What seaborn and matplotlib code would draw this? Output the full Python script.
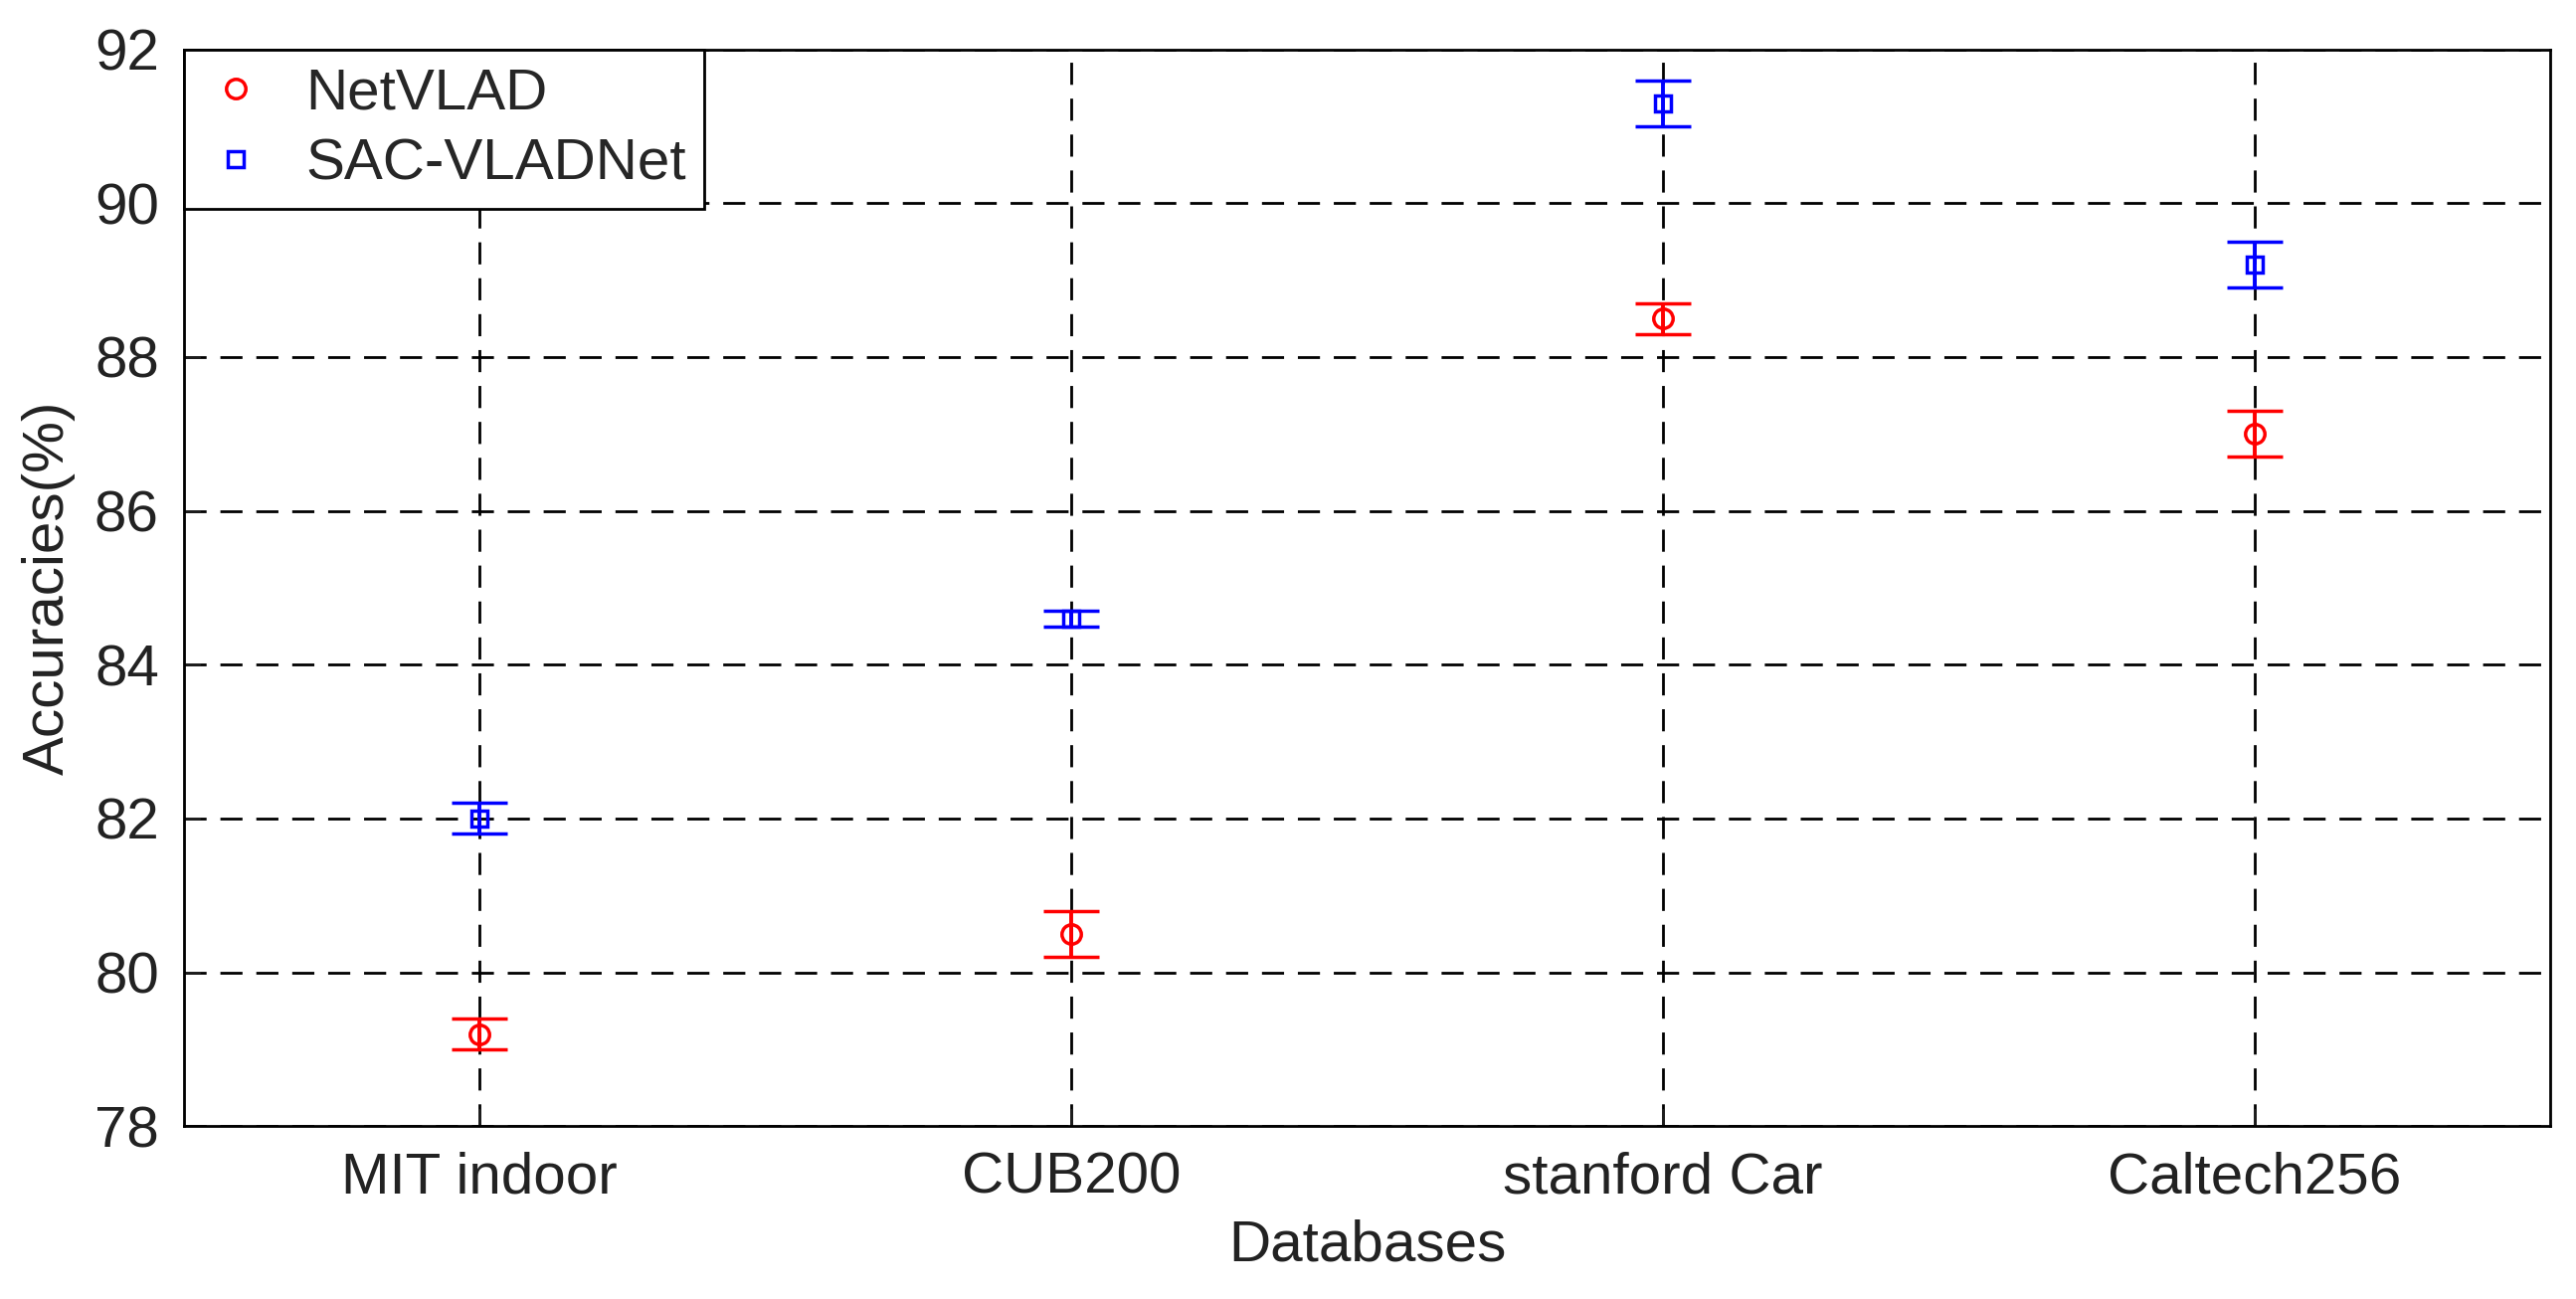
import matplotlib
matplotlib.use("Agg")
import matplotlib.pyplot as plt
from matplotlib.lines import Line2D
import seaborn as sns
import numpy as np
import pandas as pd

categories = ["MIT indoor", "CUB200", "stanford Car", "Caltech256"]
netvlad = [79.2, 80.5, 88.5, 87.0]
netvlad_err = [0.2, 0.3, 0.2, 0.3]
sac = [82.0, 84.6, 91.3, 89.2]
sac_err = [0.2, 0.1, 0.3, 0.3]
yticks = [78, 80, 82, 84, 86, 88, 90, 92]

sns.set_theme(style="white")
plt.rcParams['font.family'] = ['Liberation Sans', 'DejaVu Sans']

fig = plt.figure(figsize=(25.9, 13.06), dpi=100)
ax = fig.add_axes([0.0714, 0.133, 0.9186, 0.829])

df = pd.DataFrame({"Databases": categories * 2,
                   "Acc": netvlad + sac,
                   "err": netvlad_err + sac_err,
                   "Method": ["NetVLAD"] * 4 + ["SAC-VLADNet"] * 4})
x = np.arange(len(categories))
handles = []
for name, col, mk in [("NetVLAD", "red", "o"), ("SAC-VLADNet", "blue", "s")]:
    sub = df[df.Method == name]
    ms = 14 if mk == "o" else 11
    ax.errorbar(x, sub.Acc, yerr=sub.err, fmt=mk, color=col, mfc="none",
                mec=col, ms=ms, mew=2.5, elinewidth=2.8,
                capsize=20, capthick=2.8)
    handles.append(Line2D([], [], ls="none", marker=mk, mfc="none", mec=col,
                          ms=ms, mew=2.5, label=name))

ax.set_xlim(-0.5, 3.5)
ax.set_ylim(78, 92)
ax.set_xticks(x)
ax.set_xticklabels(categories)
ax.set_yticks(yticks)
ax.tick_params(labelsize=42, direction="in", length=12, pad=18, left=True,
               bottom=True, colors="#222222")
ax.grid(True, color="black", linestyle=(0, (8, 5)), linewidth=2)
for s in ax.spines.values():
    s.set_color("black")
    s.set_linewidth(2)
ax.set_xlabel("Databases", fontsize=42, color="#222222", labelpad=10)
ax.set_ylabel("Accuracies(%)", fontsize=42, color="#222222", labelpad=14)
leg = ax.legend(handles=handles, loc="upper left", fontsize=42, frameon=True,
                fancybox=False, edgecolor="black", borderaxespad=0,
                handletextpad=0.6, handlelength=1.2, borderpad=0.3,
                labelspacing=0.3, framealpha=1)
leg.get_frame().set_linewidth(2)
fig.savefig("out.png", dpi=100)
